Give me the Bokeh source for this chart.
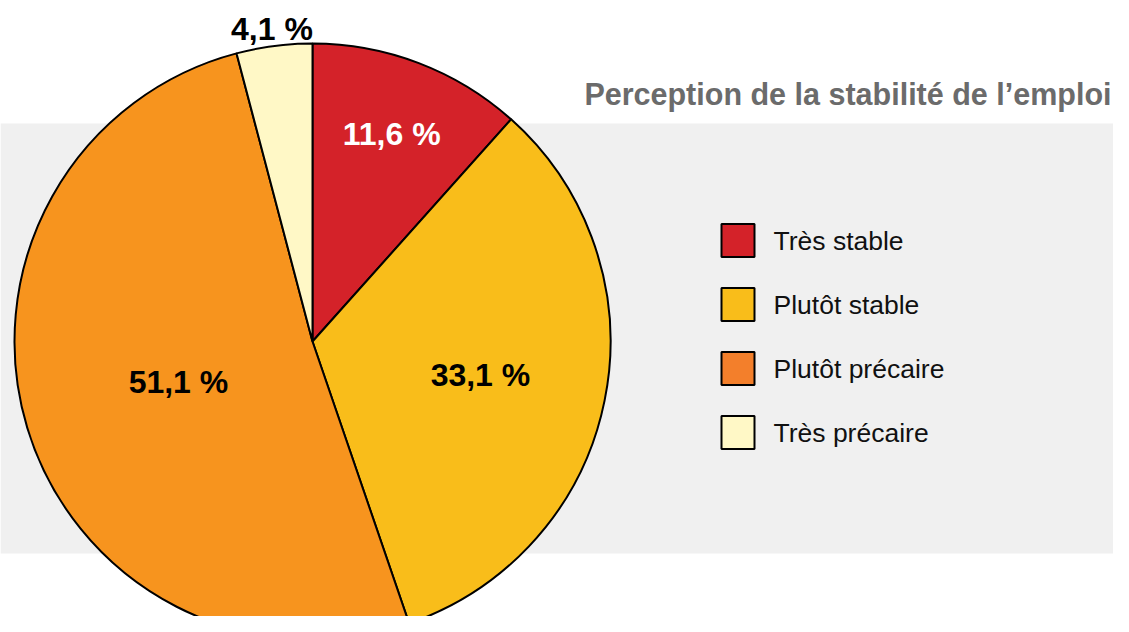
import math
from bokeh.plotting import figure
from bokeh.models import Range1d, ColumnDataSource
from bokeh.core.properties import value
from bokeh.embed import file_html
from bokeh.resources import INLINE

# ---- data ----
categories = ["Très stable", "Plutôt stable", "Plutôt précaire", "Très précaire"]
shares = [11.6, 33.1, 51.1, 4.1]
labels = ["11,6 %", "33,1 %", "51,1 %", "4,1 %"]
title = "Perception de la stabilité de l\u2019emploi"

# ---- styles / layout ----
pie_colors = ["#d42229", "#f9bd1a", "#f7941e", "#fff8c6"]
legend_colors = ["#d42229", "#f9bd1a", "#f37f2b", "#fff8c6"]
label_colors = ["white", "black", "black", "black"]
label_rfrac = [0.745, 0.575, 0.47, 1.058]
FONT = "Liberation Sans"

W, H = 1113, 616
p = figure(width=W, height=H, output_backend="svg", toolbar_location=None,
           x_range=Range1d(0, W), y_range=Range1d(632 - H, 632),
           min_border=0, outline_line_color=None)
p.axis.visible = False
p.grid.visible = False
p.background_fill_color = "white"
p.border_fill_color = "white"

# gray band
p.quad(left=[0], right=[1129], bottom=[632 - 553], top=[632 - 123],
       fill_color="#f0f0f0", line_color=None)

cx, cy, R = 312, 632 - 341, 298
total = sum(shares)
starts, ends, mids = [], [], []
cum = 0.0
for s in shares:
    a0 = math.pi / 2 - 2 * math.pi * cum / total
    cum += s
    a1 = math.pi / 2 - 2 * math.pi * cum / total
    starts.append(a0)
    ends.append(a1)
    mids.append((a0 + a1) / 2)

src = ColumnDataSource(dict(start=starts, end=ends, color=pie_colors))
p.wedge(x=cx, y=cy, radius=R, start_angle="start", end_angle="end",
        direction="clock", fill_color="color", line_color="black",
        line_width=2, source=src)

lx = [cx + f * R * math.cos(m) for f, m in zip(label_rfrac, mids)]
ly = [cy + f * R * math.sin(m) for f, m in zip(label_rfrac, mids)]
p.text(x=lx, y=ly, text=labels, text_color=label_colors,
       text_font=value(FONT), text_font_style="bold", text_font_size="32px",
       text_align="center", text_baseline="middle")

# title
p.text(x=[1111], y=[632 - 93], text=[title], text_color="#6b6b6b",
       text_font=value(FONT), text_font_style="bold", text_font_size="30.5px",
       text_align="right", text_baseline="middle")

# legend
leg_x, leg_top, leg_step, sw = 737.5, 632 - 240, 64, 33
leg_y = [leg_top - i * leg_step for i in range(len(categories))]
p.rect(x=[leg_x] * len(categories), y=leg_y, width=sw, height=sw,
       fill_color=legend_colors, line_color="black", line_width=2)
p.text(x=[773] * len(categories), y=leg_y, text=categories, text_color="#111111",
       text_font=value(FONT), text_font_size="26.5px",
       text_align="left", text_baseline="middle")

open("out.html", "w").write(file_html(p, INLINE))
